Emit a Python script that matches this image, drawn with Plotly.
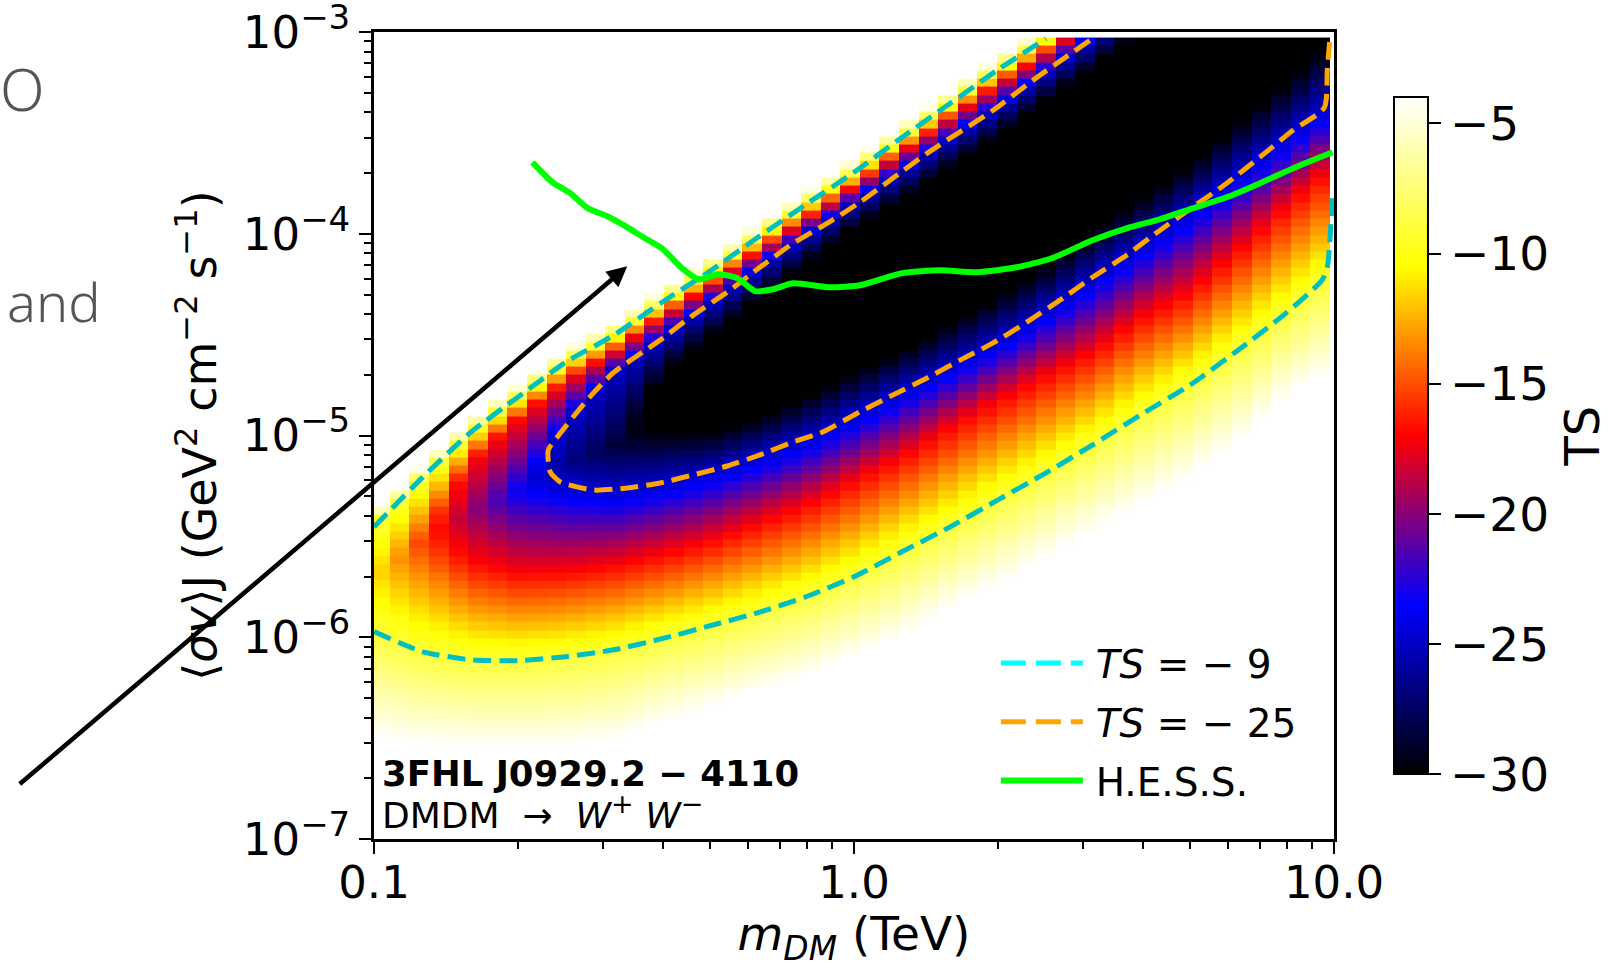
import numpy as np
import plotly.graph_objects as go

nan = float("nan")

# Read-off from the picture. Heat map: for each mass knot, the log10(<sv>J) at which
# TS crosses a level, on the upper and lower flank of each column (nan = not reached).
LOG_M = [-1.0,-0.9,-0.8,-0.7,-0.6,-0.5,-0.4,-0.3,-0.2,-0.1,0.0,0.1,0.2,0.3,0.4,0.5,0.6,0.7,0.8,0.9,0.986]
UP_9 = [-5.453,-5.21,-4.987,-4.809,-4.636,-4.502,-4.339,-4.185,-4.017,-3.854,-3.695,-3.522,-3.354,-3.186,-3.032,-2.864,-2.695,-2.527,-2.359,-2.191,-2.052]
UP_17 = [nan,nan,-5.136,-4.923,-4.73,-4.586,-4.413,-4.26,-4.091,-3.928,-3.77,-3.596,-3.428,-3.26,-3.106,-2.938,-2.77,-2.601,-2.433,-2.265,-2.126]
UP_25 = [nan,nan,nan,nan,-4.948,-4.69,-4.522,-4.349,-4.176,-4.007,-3.844,-3.69,-3.532,-3.374,-3.2,-3.032,-2.859,-2.691,-2.522,-2.349,-2.2]
UP_30 = [nan,nan,nan,nan,nan,nan,-4.7,-4.507,-4.329,-4.146,-3.973,-3.829,-3.671,-3.512,-3.339,-3.171,-2.997,-2.829,-2.661,-2.488,-2.339]
MIN_POS = [-5.705,-5.517,-5.378,-5.27,-5.131,-5.047,-4.824,-4.745,-4.621,-4.478,-4.329,-4.205,-4.057,-3.908,-3.75,-3.577,-3.408,-3.245,-3.057,-2.869,-2.705]
MIN_TS = [-11,-15.5,-19.5,-23.5,-26.5,-28.5,-31,-40,-45,-45,-45,-45,-45,-45,-45,-45,-45,-45,-45,-45,-45]
LO_30 = [nan,nan,nan,nan,nan,nan,-4.982,-4.987,-4.913,-4.809,-4.685,-4.581,-4.448,-4.309,-4.161,-3.983,-3.819,-3.661,-3.453,-3.255,-3.067]
LO_25 = [nan,nan,nan,nan,-5.24,-5.27,-5.235,-5.175,-5.101,-5.012,-4.898,-4.775,-4.656,-4.527,-4.379,-4.21,-4.052,-3.879,-3.7,-3.517,-3.364]
LO_17 = [nan,nan,-5.616,-5.68,-5.675,-5.641,-5.586,-5.522,-5.433,-5.344,-5.225,-5.101,-4.958,-4.824,-4.7,-4.577,-4.408,-4.284,-4.082,-3.859,-3.686]
LO_9 = [-5.972,-6.071,-6.111,-6.116,-6.096,-6.062,-6.007,-5.943,-5.878,-5.799,-5.7,-5.576,-5.453,-5.319,-5.185,-5.042,-4.893,-4.75,-4.577,-4.393,-4.23]
LO_4 = [-6.497,-6.532,-6.537,-6.537,-6.537,-6.507,-6.423,-6.349,-6.269,-6.195,-6.096,-5.997,-5.854,-5.735,-5.601,-5.468,-5.339,-5.2,-5.037,-4.804,-4.7]

# Contours and limit line, log10 values
CYAN_UP_M = [-1.0,-0.9,-0.8,-0.7,-0.6,-0.5,-0.4,-0.3,-0.2,-0.1,0.0,0.1,0.2,0.3,0.4]
CYAN_UP_S = UP_9[:15]
CYAN_LO_M = LOG_M[:20] + [0.975, 0.986, 0.997]
CYAN_LO_S = LO_9[:20] + [-4.23, -4.166, -3.799]
ORANGE_M = [.491,.372,.289,.152,.012,-.056,-.127,-.196,-.264,-.335,-.404,-.502,-.556,-.618,-.637,-.633,-.612,-.543,-.472,-.404,-.335,-.264,-.196,-.127,-.065,.012,.081,.152,.221,.289,.36,.429,.497,.568,.637,.705,.776,.845,.914,.98,.986,.991]
ORANGE_S = [-3.042,-3.24,-3.389,-3.601,-3.844,-3.948,-4.047,-4.166,-4.289,-4.403,-4.527,-4.69,-4.824,-5.007,-5.072,-5.18,-5.23,-5.27,-5.26,-5.235,-5.195,-5.151,-5.096,-5.032,-4.982,-4.883,-4.799,-4.715,-4.626,-4.542,-4.438,-4.329,-4.215,-4.106,-3.983,-3.869,-3.75,-3.621,-3.488,-3.374,-3.191,-3.042]
HESS_M = [-.67,-.628,-.591,-.554,-.514,-.472,-.439,-.4,-.358,-.323,-.283,-.243,-.206,-.169,-.127,-.05,.012,.1,.179,.256,.339,.412,.497,.574,.637,.705,.776,.845,.914,.997]
HESS_S = [-3.646,-3.745,-3.799,-3.874,-3.913,-3.968,-4.017,-4.072,-4.171,-4.225,-4.2,-4.22,-4.284,-4.275,-4.245,-4.265,-4.255,-4.195,-4.181,-4.19,-4.166,-4.121,-4.032,-3.968,-3.928,-3.874,-3.819,-3.75,-3.676,-3.596]

X_TICKS = [0.1, 1, 10]
X_LABELS = ["0.1", "1.0", "10.0"]
Y_TICKS = [1e-7, 1e-6, 1e-5, 1e-4, 1e-3]
SUP = "<sup><span style='font-size:34px'>%s</span></sup>"
Y_LABELS = ["10" + SUP % ("\u2212" + d) for d in "76543"]
CB_TICKS = [-30, -25, -20, -15, -10, -5]
CB_LABELS = ["\u221230", "\u221225", "\u221220", "\u221215", "\u221210", "\u22125"]

W, H = 1608, 968
L, R, T, B = 373.5, 1334.5, 31.5, 839.0
PW, PH = R - L, B - T
px = lambda x: (x - L) / PW
py = lambda y: (B - y) / PH

# Cell grid of the map
step = 0.0408
x_edges = np.concatenate([[-1.0], -0.967 + step * np.arange(49)])
y_edges = np.concatenate([[-7.0], (-3.027 - step * np.arange(98))[::-1]])
x_c = (x_edges[:-1] + x_edges[1:]) / 2
y_c = (y_edges[:-1] + y_edges[1:]) / 2

levels = [
    (np.array(LO_4), -4.0), (np.array(LO_9), -9.0), (np.array(LO_17), -17.0),
    (np.array(LO_25), -25.0), (np.array(LO_30), -30.0), None,
    (np.array(UP_30), -30.0), (np.array(UP_25), -25.0), (np.array(UP_17), -17.0),
    (np.array(UP_9), -9.0), (np.array(UP_9) + 0.065, -4.0),
]
mpos, mts = np.array(MIN_POS), np.array(MIN_TS, float)
pos_tab, ts_tab = [], []
for lev in levels:
    if lev is None:
        pos_tab.append(mpos); ts_tab.append(mts); continue
    p, v = lev
    miss = np.isnan(p)
    pos_tab.append(np.where(miss, mpos, p))
    ts_tab.append(np.where(miss, mts, v))

z = np.zeros((len(y_c), len(x_c)))
for j, xc in enumerate(x_c):
    ps = np.maximum.accumulate([np.interp(xc, LOG_M, a) for a in pos_tab])
    ts = [np.interp(xc, LOG_M, a) for a in ts_tab]
    z[:, j] = np.interp(y_c, ps, ts)

colorscale = [[0, "rgb(0,0,0)"], [0.25, "rgb(0,0,255)"], [0.5, "rgb(255,0,0)"],
              [0.75, "rgb(255,255,0)"], [1, "rgb(255,255,255)"]]

fig = go.Figure()
fig.add_trace(go.Heatmap(
    x=10 ** x_edges, y=10 ** y_edges, z=z, zmin=-30, zmax=-4, colorscale=colorscale,
    showlegend=False, hoverinfo="skip",
    colorbar=dict(
        thicknessmode="pixels", thickness=34, lenmode="pixels", len=677,
        x=px(1395), xanchor="left", xpad=0, y=py(97), yanchor="top", ypad=0,
        outlinewidth=2, outlinecolor="black",
        tickmode="array", tickvals=CB_TICKS, ticktext=CB_LABELS,
        ticks="outside", ticklen=12, tickwidth=2, tickcolor="black",
        tickfont=dict(size=47, color="black", family="DejaVu Sans"),
    ),
))

def line(mx, sy, color, width, dash="solid", shape="spline"):
    fig.add_trace(go.Scatter(
        x=10 ** np.array(mx), y=10 ** np.array(sy), mode="lines", showlegend=False,
        hoverinfo="skip", line=dict(color=color, width=width, dash=dash, shape=shape, smoothing=0.6)))

line(CYAN_UP_M, CYAN_UP_S, "rgb(0,191,191)", 5, "18px,8px")
line(CYAN_LO_M, CYAN_LO_S, "rgb(0,191,191)", 5, "18px,8px")
line(ORANGE_M, ORANGE_S, "rgb(255,165,0)", 5, "18px,8px")
line(HESS_M, HESS_S, "rgb(0,255,0)", 6)

for name, color, width, dash in [
    ("\u2009<i>TS</i> = \u2212 9", "rgb(0,255,255)", 5, "25px,10px"),
    ("\u2009<i>TS</i> = \u2212 25", "rgb(255,165,0)", 5, "25px,10px"),
    ("\u2009H.E.S.S.", "rgb(0,255,0)", 6, "solid"),
]:
    fig.add_trace(go.Scatter(x=[None], y=[None], mode="lines", name=name, legendgroup=name,
                             line=dict(color=color, width=width, dash=dash)))

notes = [
    dict(text="<b>3FHL J0929.2 \u2212 4110</b>", x=px(380), y=py(796), size=35.5, color="black",
         family="DejaVu Sans", xanchor="left", yanchor="bottom"),
    dict(text="DMDM  \u2192  <i>W</i><sup><span style='font-size:27px'>+</span></sup> <i>W</i><sup><span style='font-size:27px'>\u2212</span></sup>",
         x=px(380), y=py(838), size=36, color="black",
         family="DejaVu Sans", xanchor="left", yanchor="bottom"),
    dict(text="O", x=px(-3), y=py(88), size=58, color="#555555", family="Noto Sans",
         xanchor="left", yanchor="middle"),
    dict(text="and", x=px(4), y=py(301), size=54, color="#555555", family="Noto Sans",
         xanchor="left", yanchor="middle"),
    dict(text="TS", x=px(1583), y=py(436), size=48, color="black", family="DejaVu Sans",
         xanchor="center", yanchor="middle", textangle=-90),
]
annotations = [dict(xref="paper", yref="paper", showarrow=False,
                    text=n["text"], x=n["x"], y=n["y"], xanchor=n["xanchor"], yanchor=n["yanchor"],
                    textangle=n.get("textangle", 0),
                    font=dict(size=n["size"], color=n["color"], family=n["family"], weight=300 if n["family"] == "Noto Sans" else 400))
               for n in notes]
annotations.append(dict(xref="paper", yref="paper", x=px(627), y=py(266), text="",
                        showarrow=True, axref="pixel", ayref="pixel", ax=18 - 627, ay=785 - 266,
                        arrowhead=2, arrowsize=0.9, arrowwidth=4.5, arrowcolor="black"))

minor_x = [m * d for d in (0.1, 1) for m in range(2, 10)]
minor_y = [m * d for d in (1e-7, 1e-6, 1e-5, 1e-4) for m in range(2, 10)]
axis_common = dict(type="log", showgrid=False, zeroline=False, showline=True, mirror=True,
                   linecolor="black", linewidth=2.5, ticks="outside", ticklen=12, tickwidth=2,
                   tickcolor="black", tickmode="array", ticklabeloverflow="allow",
                   tickfont=dict(size=45, color="black", family="DejaVu Sans"))
fig.update_layout(
    width=W, height=H, paper_bgcolor="white", plot_bgcolor="white",
    margin=dict(l=L, r=W - R, t=T, b=H - B, autoexpand=False),
    xaxis=dict(range=[-1, 1], tickvals=X_TICKS, ticktext=X_LABELS, ticklabelstandoff=-10,
               minor=dict(tickmode="array", tickvals=minor_x, ticks="outside", ticklen=7, tickwidth=2, tickcolor="black"),
               title=dict(text="<i>m<sub>DM</sub></i> (TeV)", standoff=14,
                          font=dict(size=47, color="black", family="DejaVu Sans")),
               **axis_common),
    yaxis=dict(range=[-7, -2.9995], tickvals=Y_TICKS, ticktext=Y_LABELS,
               minor=dict(tickmode="array", tickvals=minor_y, ticks="outside", ticklen=7, tickwidth=2, tickcolor="black"),
               title=dict(text="\u27e8<i>\u03c3v</i>\u27e9J (GeV<sup>2</sup> cm<sup>\u22122</sup> s<sup>\u22121</sup>)", standoff=12,
                          font=dict(size=46, color="black", family="DejaVu Sans")),
               **axis_common),
    legend=dict(x=px(996), xanchor="left", y=py(631), yanchor="top", bgcolor="rgba(0,0,0,0)",
                itemwidth=82, tracegroupgap=5,
                font=dict(size=39, color="black", family="DejaVu Sans")),
    annotations=annotations,
)
fig.write_html("out.html", config={"displayModeBar": False},
               post_script="document.body.style.margin='0';document.body.style.overflow='hidden';")
